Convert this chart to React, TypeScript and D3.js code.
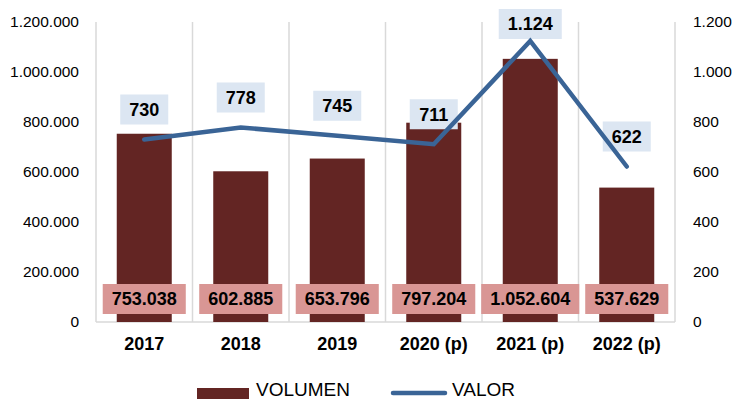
import React from "react";
import * as d3 from "d3";

const categories = ["2017", "2018", "2019", "2020 (p)", "2021 (p)", "2022 (p)"];
const volumen = [753038, 602885, 653796, 797204, 1052604, 537629];
const valor = [730, 778, 745, 711, 1124, 622];
const leftTicks = [0, 200000, 400000, 600000, 800000, 1000000, 1200000];
const rightTicks = [0, 200, 400, 600, 800, 1000, 1200];

const W = 732;
const H = 401;
const M = { left: 96, right: 675, top: 22, bottom: 322 };
const FONT = "'Liberation Sans', Arial, sans-serif";

const fmt = (v: number) => d3.format(",")(v).replace(/,/g, ".");

export default function App() {
  const x = d3.scaleBand<string>().domain(categories).range([M.left, M.right]).paddingInner(0).paddingOuter(0);
  const yL = d3.scaleLinear().domain([0, 1200000]).range([M.bottom, M.top]);
  const yR = d3.scaleLinear().domain([0, 1200]).range([M.bottom, M.top]);
  const bw = x.bandwidth();
  const barW = bw * 0.57;
  const cx = (c: string) => (x(c) as number) + bw / 2;

  const line = d3
    .line<number>()
    .x((_, i) => cx(categories[i]))
    .y((d) => yR(d));

  const boundaries = d3.range(categories.length + 1).map((i) => M.left + i * bw);

  const textW = (s: string, size: number) => {
    let w = 0;
    for (const ch of s) {
      if (ch === ".") w += 0.278;
      else if (ch === " ") w += 0.278;
      else if (ch === "(" || ch === ")") w += 0.333;
      else w += 0.556;
    }
    return w * size;
  };

  return (
    <svg width={W} height={H} style={{ position: "absolute", left: 0, top: 0, background: "#fff" }} fontFamily={FONT}>
      {boundaries.map((bx, i) => (
        <line key={"g" + i} x1={bx} x2={bx} y1={M.top} y2={M.bottom} stroke="#D9D9D9" strokeWidth={1.5} />
      ))}
      <line x1={M.left} x2={M.right} y1={M.bottom} y2={M.bottom} stroke="#D9D9D9" strokeWidth={1.5} />

      {leftTicks.map((t) => (
        <text key={"l" + t} x={79} y={yL(t)} dy="0.35em" textAnchor="end" fontSize={15.5} fill="#000">
          {fmt(t)}
        </text>
      ))}
      {rightTicks.map((t) => (
        <text key={"r" + t} x={693} y={yR(t)} dy="0.35em" textAnchor="start" fontSize={15.5} fill="#000">
          {fmt(t)}
        </text>
      ))}

      {categories.map((c, i) => (
        <rect key={"b" + c} x={cx(c) - barW / 2} y={yL(volumen[i])} width={barW} height={M.bottom - yL(volumen[i])} fill="#632523" />
      ))}

      {categories.map((c, i) => {
        const s = fmt(volumen[i]);
        const w = textW(s, 18) + 18;
        return (
          <g key={"bl" + c}>
            <rect x={cx(c) - w / 2} y={284} width={w} height={30} fill="#D99694" />
            <text x={cx(c)} y={299} dy="0.35em" textAnchor="middle" fontSize={18} fontWeight="bold" fill="#000">
              {s}
            </text>
          </g>
        );
      })}

      {categories.map((c, i) => {
        const s = fmt(valor[i]);
        const w = textW(s, 18) + 18;
        const ly = Math.max(yR(valor[i]) - 30, 24);
        return (
          <g key={"vl" + c}>
            <rect x={cx(c) - w / 2} y={ly - 15} width={w} height={30} fill="#DCE6F2" />
            <text x={cx(c)} y={ly} dy="0.35em" textAnchor="middle" fontSize={18} fontWeight="bold" fill="#000">
              {s}
            </text>
          </g>
        );
      })}

      <path d={line(valor) as string} fill="none" stroke="#3A6496" strokeWidth={4.5} strokeLinejoin="miter" strokeLinecap="round" />

      {categories.map((c) => (
        <text key={"c" + c} x={cx(c)} y={350} textAnchor="middle" fontSize={18} fontWeight="bold" fill="#000">
          {c}
        </text>
      ))}

      <rect x={197} y={388} width={52} height={11} fill="#632523" />
      <text x={256} y={396} fontSize={19} fill="#000">VOLUMEN</text>
      <line x1={393} x2={445} y1={393} y2={393} stroke="#3A6496" strokeWidth={4.5} strokeLinecap="round" />
      <text x={452} y={396} fontSize={19} fill="#000">VALOR</text>
    </svg>
  );
}
